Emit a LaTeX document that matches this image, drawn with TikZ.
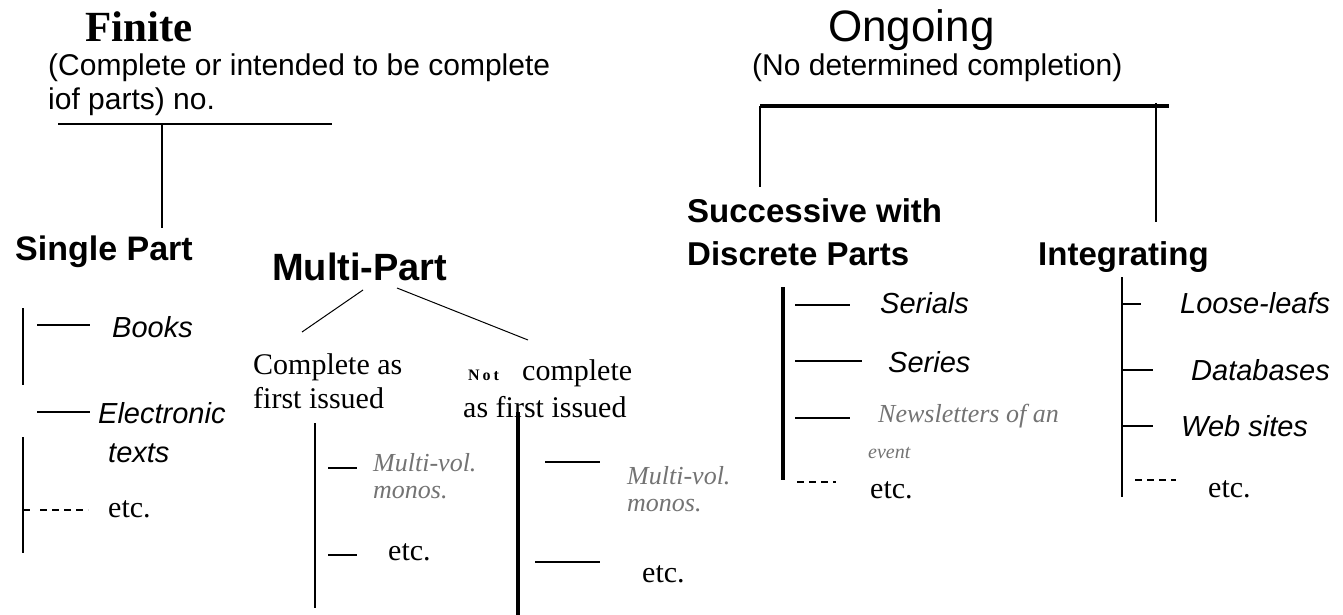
\documentclass[tikz,border=0pt]{standalone}
\usepackage{fontspec}
\setmainfont{Liberation Serif}
\newfontfamily\arial{Liberation Sans}
\begin{document}
\begin{tikzpicture}[x=1pt,y=-1pt,
  txt/.style={inner sep=0pt, anchor=base west},
  titleserif/.style={txt, font=\fontsize{43}{50}\selectfont\bfseries},
  subsans/.style={txt, font=\arial\fontsize{30}{34}\selectfont},
  headbig/.style={txt, font=\arial\bfseries\fontsize{38}{44}\selectfont},
  headsans/.style={txt, font=\arial\bfseries\fontsize{34}{40}\selectfont},
  headmid/.style={txt, font=\arial\bfseries\fontsize{33}{38}\selectfont},
  itemsans/.style={txt, font=\arial\itshape\fontsize{29}{34}\selectfont},
  itemgray/.style={txt, text=black!55, font=\itshape\fontsize{26}{30}\selectfont},
  serifreg/.style={txt, font=\fontsize{30}{36}\selectfont},
  ln/.style={line width=1.5pt},
  lnthin/.style={line width=1pt},
  lnmid/.style={line width=2.2pt},
  lnheavy/.style={line width=3.5pt},
  dashln/.style={line width=1.5pt, dash pattern=on 7pt off 5pt}
]
\useasboundingbox (0,0) rectangle (1343,615);

% ---------------- Finite ----------------
\node[titleserif] (finite) at (85,42) {Finite};
\node[subsans] (fsub1) at (48,76) {(Complete or intended to be complete};
\node[subsans] (fsub2) at (48,110) {iof parts) no.};
\coordinate (fL) at (58,124);
\coordinate (fR) at (332,124);
\coordinate (fT) at (162,124);
\coordinate (fB) at (162,228);
\draw[ln] (fL) -- (fR);
\draw[lnmid] (fT) -- (fB);

\node[headsans] (single) at (15,260) {Single Part};
\node[headbig] (multi) at (272,280) {Multi-Part};

% single part list
\coordinate (s1a) at (23,308); \coordinate (s1b) at (23,385);
\draw[ln] (s1a) -- (s1b);
\coordinate (bkA) at (37,325); \coordinate (bkB) at (90,325);
\draw[lnmid] (bkA) -- (bkB);
\node[itemsans] (books) at (112,337) {Books};
\coordinate (elA) at (37,412); \coordinate (elB) at (90,412);
\draw[ln] (elA) -- (elB);
\node[itemsans] (electronic) at (98,423) {Electronic};
\node[itemsans] (texts) at (108,462) {texts};
\coordinate (s2a) at (23,437); \coordinate (s2b) at (23,553);
\draw[ln] (s2a) -- (s2b);
\coordinate (tkA) at (23,510); \coordinate (tkB) at (30,510);
\draw[lnmid] (tkA) -- (tkB);
\coordinate (sdA) at (40,510); \coordinate (sdB) at (88,510);
\draw[dashln] (sdA) -- (sdB);
\node[serifreg] (etc1) at (108,517) {etc.};

% multi-part branches
\coordinate (mpA) at (363,290); \coordinate (mpB) at (302,332);
\coordinate (mpC) at (397,288); \coordinate (mpD) at (528,340);
\draw[lnthin] (mpA) -- (mpB);
\draw[lnthin] (mpC) -- (mpD);

% complete as first issued
\node[serifreg] (ca1) at (253,374) {Complete as};
\node[serifreg] (ca2) at (253,408) {first issued};
\coordinate (cvA) at (315,423); \coordinate (cvB) at (315,608);
\draw[lnmid] (cvA) -- (cvB);
\coordinate (c1A) at (328,468); \coordinate (c1B) at (357,468);
\draw[ln] (c1A) -- (c1B);
\node[itemgray] (mv1) at (373,471) {Multi-vol.};
\node[itemgray] (mo1) at (373,498) {monos.};
\coordinate (c2A) at (328,555); \coordinate (c2B) at (357,555);
\draw[ln] (c2A) -- (c2B);
\node[serifreg] (etc2) at (388,560) {etc.};

% not complete as first issued
\node[txt, font=\bfseries\fontsize{16}{20}\selectfont\addfontfeature{LetterSpace=18}] (ncNot) at (468,380) {Not};
\node[serifreg] (ncComp) at (522,380) {complete};
\node[serifreg] (nc2) at (463,417) {as first issued};
\coordinate (nvA) at (518,412); \coordinate (nvB) at (518,615);
\draw[lnheavy] (nvA) -- (nvB);
\coordinate (n1A) at (545,462); \coordinate (n1B) at (600,462);
\draw[ln] (n1A) -- (n1B);
\node[itemgray] (mv2) at (627,484) {Multi-vol.};
\node[itemgray] (mo2) at (627,511) {monos.};
\coordinate (n2A) at (535,562); \coordinate (n2B) at (600,562);
\draw[ln] (n2A) -- (n2B);
\node[serifreg] (etc3) at (642,582) {etc.};

% ---------------- Ongoing ----------------
\node[txt, font=\arial\fontsize{44}{50}\selectfont] (ongoing) at (828,42) {Ongoing};
\node[txt, font=\arial\fontsize{30}{36}\selectfont] (osub) at (752,76) {(No determined completion)};
\coordinate (oL) at (760,106); \coordinate (oR) at (1169,106);
\draw[lnheavy] (oL) -- (oR);
\coordinate (oLb) at (760,187);
\draw[lnmid] (oL) -- (oLb);
\coordinate (oRt) at (1156,103); \coordinate (oRb) at (1156,222);
\draw[lnmid] (oRt) -- (oRb);

\node[headmid] (succ1) at (687,222) {Successive with};
\node[headmid] (succ2) at (687,265) {Discrete Parts};
\node[headmid] (integ) at (1038,265) {Integrating};

% successive list
\coordinate (svA) at (783,287); \coordinate (svB) at (783,480);
\draw[lnheavy] (svA) -- (svB);
\coordinate (q1A) at (795,305); \coordinate (q1B) at (850,305);
\draw[ln] (q1A) -- (q1B);
\node[itemsans] (serials) at (880,313) {Serials};
\coordinate (q2A) at (795,361); \coordinate (q2B) at (862,361);
\draw[ln] (q2A) -- (q2B);
\node[itemsans] (series) at (888,372) {Series};
\coordinate (q3A) at (795,418); \coordinate (q3B) at (850,418);
\draw[ln] (q3A) -- (q3B);
\node[itemgray] (news) at (878,422) {Newsletters of an};
\node[txt, text=black!55, font=\itshape\fontsize{20}{24}\selectfont] (event) at (868,458) {event};
\coordinate (q4A) at (797,482); \coordinate (q4B) at (836,482);
\draw[dashln] (q4A) -- (q4B);
\node[serifreg] (etc4) at (870,498) {etc.};

% integrating list
\coordinate (ivA) at (1122,277); \coordinate (ivB) at (1122,497);
\draw[ln] (ivA) -- (ivB);
\coordinate (r1A) at (1122,304); \coordinate (r1B) at (1141,304);
\draw[ln] (r1A) -- (r1B);
\node[itemsans] (loose) at (1180,313) {Loose-leafs};
\coordinate (r2A) at (1122,370); \coordinate (r2B) at (1153,370);
\draw[ln] (r2A) -- (r2B);
\node[itemsans] (databases) at (1191,380) {Databases};
\coordinate (r3A) at (1122,426); \coordinate (r3B) at (1153,426);
\draw[ln] (r3A) -- (r3B);
\node[itemsans] (websites) at (1181,436) {Web sites};
\coordinate (r4A) at (1135,480); \coordinate (r4B) at (1176,480);
\draw[dashln] (r4A) -- (r4B);
\node[serifreg] (etc5) at (1208,497) {etc.};
\end{tikzpicture}
\end{document}
